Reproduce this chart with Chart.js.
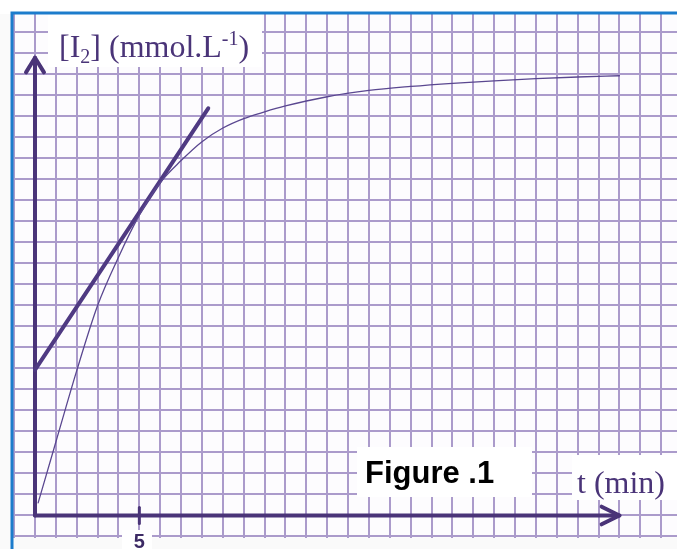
<!DOCTYPE html>
<html>
<head>
<meta charset="utf-8">
<script src="https://cdn.jsdelivr.net/npm/chart.js@4"></script>
<style>
  html, body { margin: 0; padding: 0; background: #ffffff; }
  #wrap { width: 677px; height: 549px; }
</style>
</head>
<body>
<div id="wrap"><canvas id="chartCanvas" width="677" height="549"></canvas></div>
<script>
// [I2] vs t (1 square = 1 unit)
const timeValues = [0.15, 1, 2, 3, 4, 5, 6, 7, 8, 9, 10, 11, 12, 14, 16, 18, 20, 22, 24, 26, 28];
const iodineValues = [0.6, 3.5, 6.9, 10.0, 12.3, 14.3, 15.85, 16.9, 17.8, 18.45, 18.9, 19.22, 19.5, 19.94, 20.24, 20.43, 20.58, 20.7, 20.8, 20.88, 20.94];

// tangent line
const tangentT = [0, 8.3];
const tangentI = [6.93, 19.39];

// axes and arrow heads
const yAxisT = [0, 0];
const yAxisI = [0, 21.8];
const xAxisT = [0, 28];
const xAxisI = [0, 0];
const yArrowT = [-0.43, 0, 0.43];
const yArrowI = [21.1, 21.8, 21.1];
const xArrowT = [27.15, 28, 27.15];
const xArrowI = [0.42, 0, -0.42];
const tickT = [5, 5];
const tickI = [-0.38, 0.38];
const tickLabel = '5';

const xMin = -1.006, xMax = 30.76;
const yMin = -1.048, yMax = 23.88;

const inkColor = '#4a3478';
const gridColor = '#ab9bcb';

function toPoints(xs, ys) {
    return xs.map((x, i) => ({ x: x, y: ys[i] }));
}

function gridTicks(from, to) {
    const out = [];
    for (let v = from; v <= to; v++) out.push({ value: v });
    return out;
}

function lineSet(xs, ys, color, width) {
    return {
        data: toPoints(xs, ys),
        showLine: true,
        borderColor: color,
        borderWidth: width,
        pointRadius: 0,
        borderCapStyle: 'round',
        borderJoinStyle: 'round',
        fill: false
    };
}

const paperPlugin = {
    id: 'paper',
    beforeDraw(chart) {
        const { ctx, chartArea: a } = chart;
        ctx.save();
        ctx.fillStyle = '#fafafa';
        ctx.fillRect(0, 0, chart.width, chart.height);
        ctx.fillStyle = '#ffffff';
        ctx.fillRect(0, 0, chart.width, a.top);
        ctx.fillStyle = '#fdfcfe';
        ctx.fillRect(a.left, a.top, a.right - a.left, a.bottom - a.top);
        ctx.restore();
    },
    afterDatasetsDraw(chart) {
        const { ctx } = chart;
        const xs = chart.scales.x;
        ctx.save();

        // white patches behind texts
        ctx.fillStyle = '#ffffff';
        ctx.fillRect(48, 14, 214, 53);
        ctx.fillRect(357, 447, 175, 50);
        ctx.fillRect(572, 455, 105, 45);
        ctx.fillRect(122, 530, 30, 19);

        // y axis title with sub/superscript
        ctx.fillStyle = inkColor;
        ctx.textBaseline = 'alphabetic';
        ctx.textAlign = 'left';
        let x = 59;
        const base = 57;
        const big = '32px "Liberation Serif", serif';
        const small = '20px "Liberation Serif", serif';
        const parts = [
            ['[I', big, 0],
            ['2', small, 6],
            ['] (mmol.L', big, 0],
            ['-1', small, -12],
            [')', big, 0]
        ];
        parts.forEach(([txt, font, dy]) => {
            ctx.font = font;
            ctx.fillText(txt, x, base + dy);
            x += ctx.measureText(txt).width;
        });

        // x axis title
        ctx.font = big;
        ctx.fillText('t (min)', 577, 493);

        // tick label
        ctx.fillStyle = '#3c2a64';
        ctx.font = 'bold 20px "Liberation Sans", Arial, sans-serif';
        ctx.textAlign = 'center';
        ctx.fillText(tickLabel, xs.getPixelForValue(5), 548);

        // figure caption
        ctx.fillStyle = '#000000';
        ctx.textAlign = 'left';
        ctx.font = 'bold 31px "Liberation Sans", Arial, sans-serif';
        ctx.fillText('Figure .1', 365, 483);

        // blue frame
        ctx.strokeStyle = '#1c7ccc';
        ctx.lineWidth = 3;
        ctx.beginPath();
        ctx.moveTo(12, chart.height);
        ctx.lineTo(12, 13);
        ctx.lineTo(chart.width, 13);
        ctx.stroke();
        ctx.restore();
    }
};

const ctx = document.getElementById('chartCanvas').getContext('2d');
new Chart(ctx, {
    type: 'scatter',
    data: {
        datasets: [
            Object.assign(lineSet(timeValues, iodineValues, '#5a4790', 1.3), {
                cubicInterpolationMode: 'monotone'
            }),
            lineSet(tangentT, tangentI, '#4f3a82', 4),
            lineSet(yAxisT, yAxisI, inkColor, 4),
            lineSet(xAxisT, xAxisI, inkColor, 4),
            lineSet(yArrowT, yArrowI, inkColor, 4),
            lineSet(xArrowT, xArrowI, inkColor, 4),
            lineSet(tickT, tickI, inkColor, 3)
        ]
    },
    options: {
        responsive: false,
        animation: false,
        layout: { padding: { left: 14, top: 14, right: 0, bottom: 11.5 } },
        plugins: {
            legend: { display: false },
            tooltip: { enabled: false }
        },
        scales: {
            x: {
                type: 'linear',
                min: xMin,
                max: xMax,
                grid: { color: gridColor, lineWidth: 2, drawTicks: false },
                border: { display: false },
                ticks: { display: false },
                afterBuildTicks: (scale) => { scale.ticks = gridTicks(-1, 30); },
                afterFit: (scale) => { scale.height = 0; }
            },
            y: {
                type: 'linear',
                min: yMin,
                max: yMax,
                grid: { color: gridColor, lineWidth: 2, drawTicks: false },
                border: { display: false },
                ticks: { display: false },
                afterBuildTicks: (scale) => { scale.ticks = gridTicks(-1, 23); },
                afterFit: (scale) => { scale.width = 0; }
            }
        }
    },
    plugins: [paperPlugin]
});
</script>
</body>
</html>
